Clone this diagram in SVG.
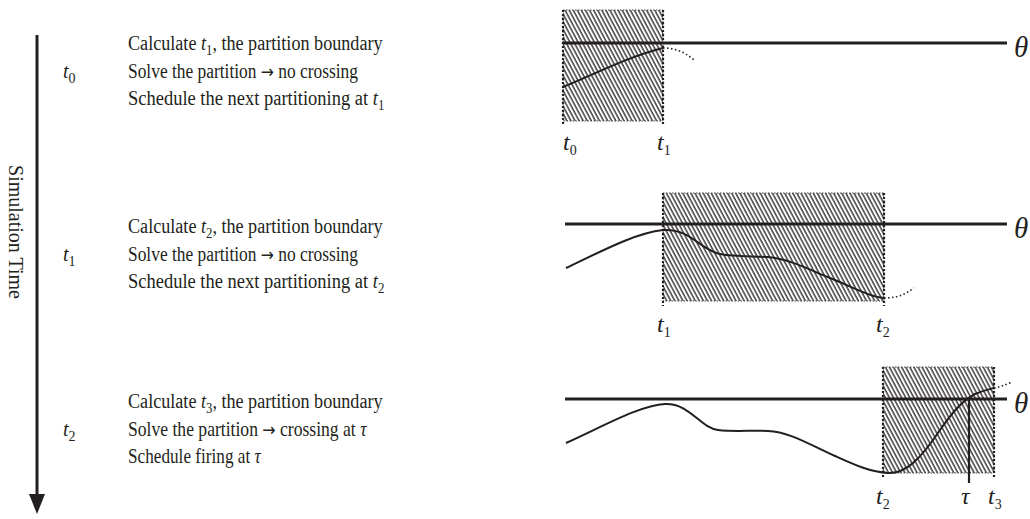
<svg xmlns="http://www.w3.org/2000/svg" width="1030" height="519" viewBox="0 0 1030 519">
<style>
text{font-family:"Liberation Serif","Times New Roman",serif;font-size:20px;fill:#231f20}
.i{font-style:italic}
.sub{font-size:14px}
.ar{font-family:"DejaVu Sans",sans-serif;font-size:18px}
.lab{font-size:24px}
.th{font-size:29px;font-style:italic}
.thr{stroke:#231f20;stroke-width:3;fill:none}
.crv{stroke:#231f20;stroke-width:2;fill:none}
.dot{stroke:#231f20;stroke-width:1.6;stroke-dasharray:1.5,2.5;fill:none}
.vd{stroke:#231f20;stroke-width:2.2;stroke-dasharray:2,2;fill:none}
.box{fill:url(#hatch);stroke:#444;stroke-width:1;stroke-dasharray:1.5,1.5}
</style>
<defs>
<pattern id="hatch" patternUnits="userSpaceOnUse" width="3.6" height="8" patternTransform="rotate(-28)">
<line x1="1" y1="0" x2="1" y2="8" stroke="#231f20" stroke-width="1.3"/>
</pattern>
</defs>

<g id="timeline">
<line x1="37" y1="35" x2="37" y2="495" stroke="#231f20" stroke-width="3"/>
<path d="M29,494 L45,494 L37,514 Z" fill="#231f20"/>
<text transform="translate(9,232) rotate(90)" text-anchor="middle">Simulation Time</text>
</g>

<g id="step0">
<text x="63" y="78" class="i">t<tspan class="sub" dy="5" font-style="normal">0</tspan></text>
<text transform="translate(128,50) scale(0.907,1)">Calculate <tspan class="i">t</tspan><tspan class="sub" dy="5">1</tspan><tspan dy="-5">, the partition boundary</tspan></text>
<text transform="translate(128,78) scale(0.87,1)">Solve the partition <tspan class="ar">→</tspan> no crossing</text>
<text transform="translate(128,105) scale(0.924,1)">Schedule the next partitioning at <tspan class="i">t</tspan><tspan class="sub" dy="5">1</tspan></text>
</g>

<g id="step1">
<text x="63" y="261" class="i">t<tspan class="sub" dy="5" font-style="normal">1</tspan></text>
<text transform="translate(128,233) scale(0.907,1)">Calculate <tspan class="i">t</tspan><tspan class="sub" dy="5">2</tspan><tspan dy="-5">, the partition boundary</tspan></text>
<text transform="translate(128,261) scale(0.87,1)">Solve the partition <tspan class="ar">→</tspan> no crossing</text>
<text transform="translate(128,288) scale(0.924,1)">Schedule the next partitioning at <tspan class="i">t</tspan><tspan class="sub" dy="5">2</tspan></text>
</g>

<g id="step2">
<text x="63" y="436" class="i">t<tspan class="sub" dy="5" font-style="normal">2</tspan></text>
<text transform="translate(128,408) scale(0.907,1)">Calculate <tspan class="i">t</tspan><tspan class="sub" dy="5">3</tspan><tspan dy="-5">, the partition boundary</tspan></text>
<text transform="translate(128,436) scale(0.88,1)">Solve the partition <tspan class="ar">→</tspan> crossing at <tspan class="i">τ</tspan></text>
<text transform="translate(128,463) scale(0.86,1)">Schedule firing at <tspan class="i">τ</tspan></text>
</g>

<g id="plot0">
<rect class="box" x="563" y="10" width="100" height="111"/>
<line class="vd" x1="563" y1="10" x2="563" y2="126"/>
<line class="vd" x1="663" y1="10" x2="663" y2="126"/>
<line class="thr" x1="563" y1="43" x2="1007" y2="43"/>
<path class="crv" d="M563,87 C595,74 630,56 663,48"/>
<path class="dot" d="M663,48 C675,48 685,52 694,60"/>
<text x="1014" y="57" class="th">θ</text>
<text x="563" y="150" class="lab i">t<tspan class="sub" dy="5" font-style="normal">0</tspan></text>
<text x="657" y="150" class="lab i">t<tspan class="sub" dy="5" font-style="normal">1</tspan></text>
</g>

<g id="plot1">
<rect class="box" x="663" y="193" width="221" height="108"/>
<line class="vd" x1="663" y1="193" x2="663" y2="306"/>
<line class="vd" x1="884" y1="193" x2="884" y2="306"/>
<line class="thr" x1="565" y1="224" x2="1007" y2="224"/>
<path class="crv" d="M566,268 C600,252 635,233 663,230 C690,228 700,250 720,254 C735,257 755,256 768,257 C790,259 810,270 830,278 C855,288 870,297 884,298"/>
<path class="dot" d="M884,298 C895,298 903,296 914,288"/>
<text x="1014" y="238" class="th">θ</text>
<text x="657" y="332" class="lab i">t<tspan class="sub" dy="5" font-style="normal">1</tspan></text>
<text x="876" y="332" class="lab i">t<tspan class="sub" dy="5" font-style="normal">2</tspan></text>
</g>

<g id="plot2">
<rect class="box" x="883" y="367" width="111" height="106"/>
<line class="vd" x1="883" y1="367" x2="883" y2="478"/>
<line class="vd" x1="994" y1="367" x2="994" y2="478"/>
<line class="thr" x1="565" y1="399" x2="1007" y2="399"/>
<line x1="969" y1="399" x2="969" y2="483" stroke="#231f20" stroke-width="2.2"/>
<path class="crv" d="M566,443 C600,428 640,405 665,404 C690,403 700,428 718,430 C735,432 752,430 768,431 C790,432 810,445 835,456 C855,465 870,472 888,473 C905,474 920,460 940,430 C950,416 960,402 975,394 C985,390 990,389 994,388"/>
<path class="dot" d="M994,388 C1000,387 1005,385 1012,382"/>
<text x="1014" y="413" class="th">θ</text>
<text x="876" y="504" class="lab i">t<tspan class="sub" dy="5" font-style="normal">2</tspan></text>
<text x="961" y="504" class="lab i">τ</text>
<text x="988" y="504" class="lab i">t<tspan class="sub" dy="5" font-style="normal">3</tspan></text>
</g>
</svg>
